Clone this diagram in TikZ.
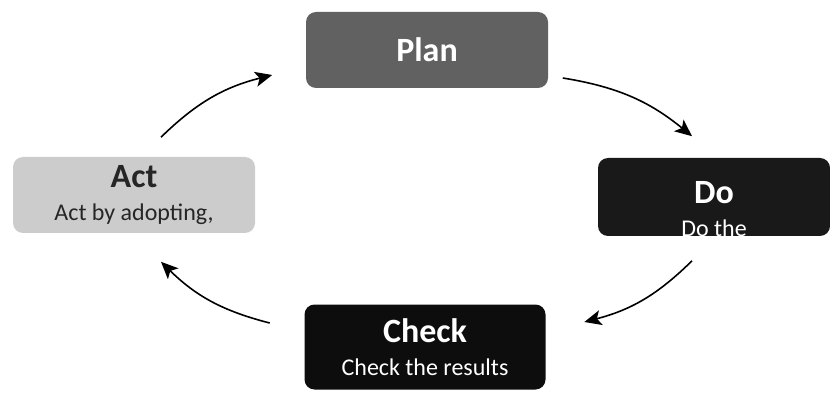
\documentclass[tikz,border=0pt]{standalone}
\usepackage{fontspec}
\setmainfont{Carlito}
\usetikzlibrary{arrows.meta,positioning}

\newcommand{\phasename}[1]{{\fontsize{34}{36}\selectfont\bfseries #1}}

\begin{document}
\begin{tikzpicture}
        [->, >={Stealth[length=17pt,width=15pt,inset=4pt]}, x=1pt, y=1pt, line width=1.6pt,
        phase/.style={rectangle, rounded corners=10pt, align=center, draw=none, text=white,
            font=\fontsize{24}{33}\selectfont, minimum width=242pt, minimum height=76pt}]
        \useasboundingbox (0,0) rectangle (830,394);

        \node[phase, fill=black!62]  (plan)  at (427,344)
        {\phasename{Plan}};

        \node[phase, fill=black!90, minimum width=232pt, minimum height=78pt]  (do)  at (714,197) {};
        \node[phase, minimum width=0pt, minimum height=0pt]  (dotext)  at ([yshift=-12pt]do.center)
        {\phasename{Do} \\
            Do the
        };

        \node[phase, fill=black!95, minimum width=241pt, minimum height=85pt]  (check)  at (425,47)
        {\phasename{Check} \\
            Check the results
        };

        \node[phase, fill=black!20, text=black!85]  (act)  at (134,199)
        {\phasename{Act} \\
            Act by adopting,
        };

        \path ([xshift=27pt,yshift=19pt]act.north)    edge [bend left=15]  ([xshift=-33pt,yshift=-25pt]plan.west)
              ([xshift=14pt,yshift=-28pt]plan.east)   edge [bend left=15]  ([xshift=-22pt,yshift=21pt]do.north)
              ([xshift=-22pt,yshift=-24pt]do.south)   edge [bend left=15]  ([xshift=38pt,yshift=25pt]check.east)
              ([xshift=-34pt,yshift=24pt]check.west)  edge [bend left=15]  ([xshift=27pt,yshift=-28pt]act.south);
\end{tikzpicture}
\end{document}
